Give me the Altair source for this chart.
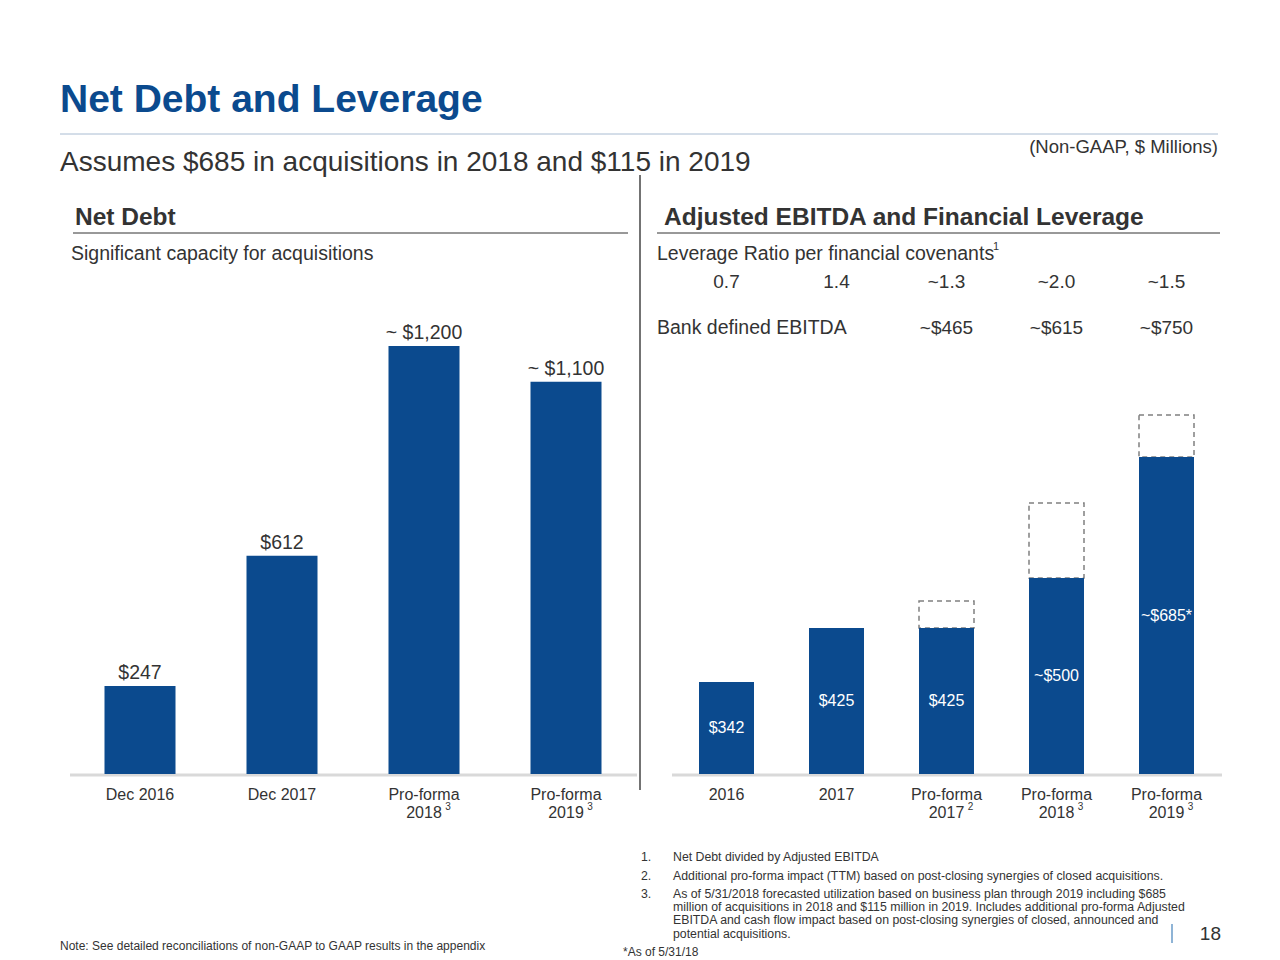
import altair as alt
import pandas as pd

# ---------------- data ----------------
net_debt_cats = ["Dec 2016", "Dec 2017", "PF 2018", "PF 2019"]
net_debt_values = [247, 612, 1200, 1100]
net_debt_labels = ["$247", "$612", "~ $1,200", "~ $1,100"]
net_debt_line1 = ["Dec 2016", "Dec 2017", "Pro-forma", "Pro-forma"]
net_debt_line2 = ["", "", "2018", "2019"]
net_debt_sup = ["", "", "3", "3"]

ebitda_cats = ["2016", "2017", "PF 2017", "PF 2018", "PF 2019"]
# bar heights as drawn (index units, $342 bar = 342)
ebitda_bar_index = [342, 543, 543, 729, 1178]
# dashed "bank defined" box tops as drawn (same units)
ebitda_box_index = [None, None, 643, 1007, 1335]
ebitda_labels = ["$342", "$425", "$425", "~$500", "~$685*"]
ebitda_line1 = ["2016", "2017", "Pro-forma", "Pro-forma", "Pro-forma"]
ebitda_line2 = ["", "", "2017", "2018", "2019"]
ebitda_sup = ["", "", "2", "3", "3"]
leverage_ratio = ["0.7", "1.4", "~1.3", "~2.0", "~1.5"]
bank_ebitda = ["", "", "~$465", "~$615", "~$750"]

footnotes = [
    ("1.", "Net Debt divided by Adjusted EBITDA"),
    ("2.", "Additional pro-forma impact (TTM) based on post-closing synergies of closed acquisitions."),
    ("3.", "As of 5/31/2018 forecasted utilization based on business plan through 2019 including $685"),
    ("", "million of acquisitions in 2018 and $115 million in 2019. Includes additional pro-forma Adjusted"),
    ("", "EBITDA and cash flow impact based on post-closing synergies of closed, announced and"),
    ("", "potential acquisitions."),
]

FONT = "Liberation Sans"
BLUE = "#0B4A8E"
DARK = "#333333"

left = pd.DataFrame({
    "cat": net_debt_cats, "value": net_debt_values, "label": net_debt_labels,
    "line1": net_debt_line1, "line2": net_debt_line2, "sup": net_debt_sup,
})
right = pd.DataFrame({
    "cat": ebitda_cats, "height": ebitda_bar_index, "box": ebitda_box_index,
    "label": ebitda_labels, "line1": ebitda_line1, "line2": ebitda_line2,
    "sup": ebitda_sup, "lev": leverage_ratio, "bank": bank_ebitda,
})
one = pd.DataFrame({"k": [0]})


def txt(s, x, y, size, color=DARK, weight="normal", align="left", baseline="middle"):
    return alt.Chart(one).mark_text(
        text=s, align=align, baseline=baseline, fontSize=size,
        fontWeight=weight, color=color, font=FONT
    ).encode(x=alt.value(x), y=alt.value(y))


def rule(x1, x2, y1, y2, color, width, dash=None):
    kw = dict(color=color, strokeWidth=width)
    if dash:
        kw["strokeDash"] = dash
    return alt.Chart(one).mark_rule(**kw).encode(
        x=alt.value(x1), x2=alt.value(x2), y=alt.value(y1), y2=alt.value(y2))


# scales
lx = alt.Scale(domain=net_debt_cats, range=[69, 637], paddingInner=0.5, paddingOuter=0.25)
ly = alt.Scale(domain=[0, 1200], range=[774, 346])
rx = alt.Scale(domain=ebitda_cats, range=[671.5, 1221.5], paddingInner=0.5, paddingOuter=0.25)
ry = alt.Scale(domain=[0, 1400], range=[774, 397.4])

LX = alt.X("cat:N", scale=lx, axis=None)
RX = alt.X("cat:N", scale=rx, axis=None)

# ---- left panel ----
l_bars = alt.Chart(left).mark_bar(color=BLUE).encode(
    x=LX, y=alt.Y("value:Q", scale=ly, axis=None))
l_vals = alt.Chart(left).mark_text(
    baseline="bottom", dy=-3, fontSize=19.5, color=DARK, font=FONT).encode(
    x=LX, y=alt.Y("value:Q", scale=ly, axis=None), text="label:N")
l_l1 = alt.Chart(left).mark_text(fontSize=16, color=DARK, font=FONT, baseline="middle").encode(
    x=LX, y=alt.value(795), text="line1:N")
l_l2 = alt.Chart(left).mark_text(fontSize=16, color=DARK, font=FONT, baseline="middle").encode(
    x=LX, y=alt.value(813), text="line2:N")
l_sup = alt.Chart(left).mark_text(fontSize=10, color=DARK, font=FONT, baseline="middle", dx=24).encode(
    x=LX, y=alt.value(807), text="sup:N")

# ---- right panel ----
r_box = alt.Chart(right).transform_filter("datum.box != null").mark_bar(
    fill="white", stroke="#808080", strokeDash=[5, 4], strokeWidth=1.5).encode(
    x=RX, y=alt.Y("box:Q", scale=ry, axis=None), y2="height:Q")
r_bars = alt.Chart(right).mark_bar(color=BLUE).encode(
    x=RX, y=alt.Y("height:Q", scale=ry, axis=None))
r_vals = alt.Chart(right).transform_calculate(mid="datum.height / 2").mark_text(
    fontSize=16, color="white", font=FONT, baseline="middle").encode(
    x=RX, y=alt.Y("mid:Q", scale=ry, axis=None), text="label:N")
r_l1 = alt.Chart(right).mark_text(fontSize=16, color=DARK, font=FONT, baseline="middle").encode(
    x=RX, y=alt.value(795), text="line1:N")
r_l2 = alt.Chart(right).mark_text(fontSize=16, color=DARK, font=FONT, baseline="middle").encode(
    x=RX, y=alt.value(813), text="line2:N")
r_sup = alt.Chart(right).mark_text(fontSize=10, color=DARK, font=FONT, baseline="middle", dx=24).encode(
    x=RX, y=alt.value(807), text="sup:N")
r_lev = alt.Chart(right).mark_text(fontSize=19, color=DARK, font=FONT, baseline="middle").encode(
    x=RX, y=alt.value(282), text="lev:N")
r_bank = alt.Chart(right).mark_text(fontSize=19, color=DARK, font=FONT, baseline="middle").encode(
    x=RX, y=alt.value(328), text="bank:N")

# ---- decorations ----
deco = [
    txt("Net Debt and Leverage", 60, 112, 39, color=BLUE, weight="bold", baseline="alphabetic"),
    rule(60, 1218, 134, 134, "#A9BCD2", 1),
    txt("Assumes $685 in acquisitions in 2018 and $115 in 2019", 60, 171, 28, baseline="alphabetic"),
    txt("(Non-GAAP, $ Millions)", 1218, 153, 18.5, align="right", baseline="alphabetic"),
    rule(640, 640, 175, 790, "#444444", 1.5),
    txt("Net Debt", 75, 225, 24.5, weight="bold", baseline="alphabetic"),
    rule(73, 628, 233, 233, DARK, 1),
    txt("Adjusted EBITDA and Financial Leverage", 664, 225, 24.5, weight="bold", baseline="alphabetic"),
    rule(657, 1220, 233, 233, DARK, 1),
    txt("Significant capacity for acquisitions", 71, 260, 19.5, baseline="alphabetic"),
    txt("Leverage Ratio per financial covenants", 657, 260, 19.5, baseline="alphabetic"),
    txt("1", 993, 250, 11, baseline="alphabetic"),
    txt("Bank defined EBITDA", 657, 334, 19.5, baseline="alphabetic"),
    rule(70, 637, 775, 775, "#D9D9D9", 3),
    rule(672, 1222, 775, 775, "#D9D9D9", 3),
    txt("*As of 5/31/18", 623, 952, 12),
    txt("Note: See detailed reconciliations of non-GAAP to GAAP results in the appendix", 60, 946, 12),
    rule(1172, 1172, 924, 943, "#8FB4D6", 2),
    txt("18", 1221, 934, 19, align="right"),
]
fy = [857, 876, 894, 907, 920, 934]
for (num, line), y in zip(footnotes, fy):
    if num:
        deco.append(txt(num, 641, y, 12.3))
    deco.append(txt(line, 673, y, 12.3))

chart = alt.layer(
    *deco,
    r_box, r_bars, r_vals, r_l1, r_l2, r_sup, r_lev, r_bank,
    l_bars, l_vals, l_l1, l_l2, l_sup,
).resolve_scale(x="independent", y="independent").properties(
    width=1280, height=960, padding=0,
    autosize=alt.AutoSizeParams(type="none"),
    background="white",
).configure_view(stroke=None)

chart.save("out.html", embed_options={"renderer": "svg", "actions": False})
